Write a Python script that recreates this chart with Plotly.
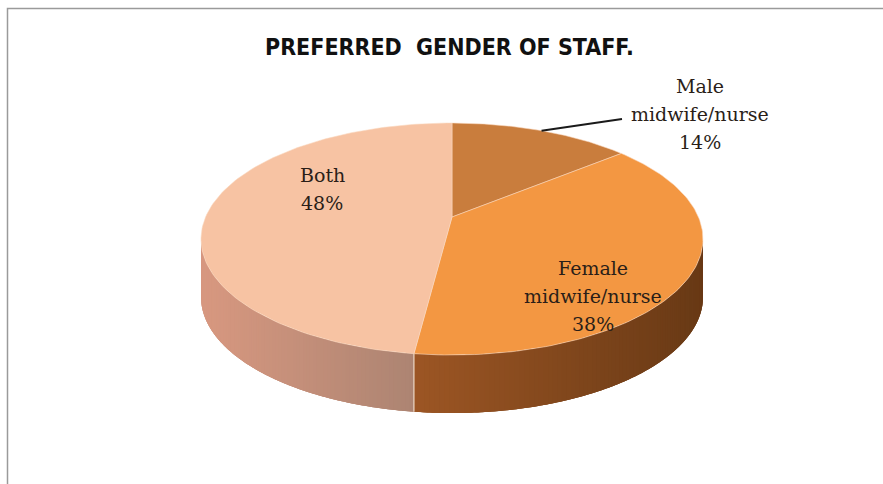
import numpy as np
import plotly.graph_objects as go

# Survey shares (percent), clockwise from 12 o'clock
categories = ["Male midwife/nurse", "Female midwife/nurse", "Both"]
label_lines = [["Male", "midwife/nurse"], ["Female", "midwife/nurse"], ["Both"]]
shares = [14, 38, 48]

top_colors = ["#c97d3d", "#f39742", "#f7c3a3"]
side_left = [(150, 80, 30), (156, 86, 36), (216, 152, 128)]
side_right = [(105, 58, 22), (104, 57, 21), (172, 132, 114)]

W, H = 883, 484
CX, CY = 452, 217          # projected pie centre
A, B, K = 246.4, 111.8, 0.19  # radii and perspective factor
DEPTH = 58


def rim(theta_deg):
    t = np.radians(np.asarray(theta_deg, dtype=float))
    u, v = np.sin(t), np.cos(t)
    d = 1 + K * v
    return CX + A * u / d, CY - B * v / d


def rgb(c):
    return "rgb(%d,%d,%d)" % tuple(int(round(x)) for x in c)


fig = go.Figure()

bounds = np.concatenate([[0], np.cumsum(shares) / np.sum(shares) * 360])

# visible side band lies between the two silhouette angles
th_r = np.degrees(np.arccos(-K))
th_l = 360 - th_r

for i in range(len(shares)):
    a0, b0 = max(bounds[i], th_r), min(bounds[i + 1], th_l)
    if b0 <= a0:
        continue
    xa, _ = rim(a0)
    xb, _ = rim(b0)
    xmin, xmax = min(xa, xb), max(xa, xb)

    # base band underneath so the shaded strips leave no seams
    th = np.linspace(a0, b0, 200)
    x, y = rim(th)
    mean_col = (np.array(side_left[i]) + np.array(side_right[i])) / 2
    fig.add_trace(go.Scatter(x=np.concatenate([x, x[::-1]]),
                             y=np.concatenate([y, y[::-1] + DEPTH]),
                             mode="none", fill="toself", fillcolor=rgb(mean_col),
                             hoverinfo="skip", showlegend=False))

    n = 90
    edges = np.linspace(a0, b0, n + 1)
    for j in range(n):
        lo = edges[max(j - 1, 0)] if j > 0 else edges[j]
        th = np.linspace(lo, edges[j + 1], 4)
        x, y = rim(th)
        xm = x.mean()
        tt = (xm - xmin) / (xmax - xmin) if xmax > xmin else 0
        col = np.array(side_left[i]) * (1 - tt) + np.array(side_right[i]) * tt
        px = np.concatenate([x, x[::-1]])
        py = np.concatenate([y, y[::-1] + DEPTH])
        fig.add_trace(go.Scatter(x=px, y=py, mode="none", fill="toself",
                                 fillcolor=rgb(col),
                                 hoverinfo="skip", showlegend=False))

# thin highlight where slices meet on the side
for b in bounds[1:-1]:
    if th_r < b < th_l:
        x, y = rim(b)
        fig.add_trace(go.Scatter(x=[x, x], y=[y, y + DEPTH], mode="lines",
                                 line=dict(color="rgba(245,225,210,0.9)", width=1.2),
                                 hoverinfo="skip", showlegend=False))

# top faces
for i in range(len(shares)):
    th = np.linspace(bounds[i], bounds[i + 1], 120)
    x, y = rim(th)
    px = np.concatenate([[CX], x, [CX]])
    py = np.concatenate([[CY], y, [CY]])
    fig.add_trace(go.Scatter(x=px, y=py, mode="lines", fill="toself",
                             fillcolor=top_colors[i],
                             line=dict(color="rgba(250,215,190,0.7)", width=0.8),
                             hoverinfo="skip", showlegend=False, name=categories[i]))

# leader line for the small slice
mid = (bounds[0] + bounds[1]) / 2
lx, ly = rim(mid)
fig.add_trace(go.Scatter(x=[lx, 622], y=[ly, 119], mode="lines",
                         line=dict(color="#1a1a1a", width=2),
                         hoverinfo="skip", showlegend=False))

label_pos = [(700, 86), (593, 268), (322, 175)]
LINE_GAP = 28
for i, (cx, cy) in enumerate(label_pos):
    lines = label_lines[i] + ["%d%%" % shares[i]]
    for k, t in enumerate(lines):
        fig.add_annotation(x=cx, y=cy + k * LINE_GAP, text=t, showarrow=False,
                           xanchor="center", yanchor="middle",
                           font=dict(family="DejaVu Serif", size=19, color="#2a1e18"))

fig.add_annotation(x=449, y=47, text="PREFERRED  GENDER OF STAFF.", showarrow=False,
                   xanchor="center", yanchor="middle",
                   font=dict(family="Liberation Sans Narrow, DejaVu Sans Condensed",
                             size=23, color="#111111", weight="bold"))

# chart frame
fig.add_shape(type="rect", x0=7.5, y0=8.5, x1=W + 20, y1=H + 20,
              line=dict(color="#9a9a9a", width=1.5), layer="above")

fig.update_layout(
    width=W, height=H, margin=dict(l=0, r=0, t=0, b=0),
    paper_bgcolor="white", plot_bgcolor="white",
    xaxis=dict(range=[0, W], visible=False, fixedrange=True),
    yaxis=dict(range=[H, 0], visible=False, fixedrange=True),
    showlegend=False,
)

fig.write_html("out.html")
